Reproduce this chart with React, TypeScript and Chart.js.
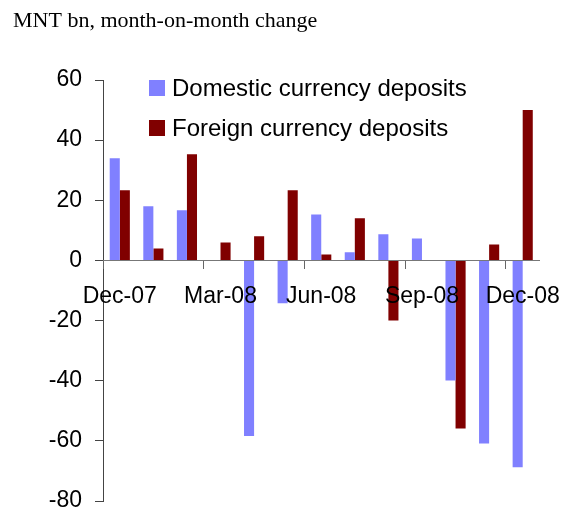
import React, { useEffect, useRef } from "react";
import { Chart, registerables } from "chart.js";

Chart.register(...registerables);

const categories = [
  "Dec-07", "Jan-08", "Feb-08", "Mar-08", "Apr-08", "May-08", "Jun-08",
  "Jul-08", "Aug-08", "Sep-08", "Oct-08", "Nov-08", "Dec-08",
];
const domesticDeposits = [34, 18, 16.7, 0, -58.4, -14.2, 15.3, 2.7, 8.7, 7.3, -39.9, -60.9, -68.8];
const foreignDeposits = [23.3, 4, 35.3, 6, 8, 23.3, 2, 14, -20, 0, -55.9, 5.3, 50];
const seriesNames = ["Domestic currency deposits", "Foreign currency deposits"];
const titleText = "MNT bn, month-on-month change";

const SANS = '"Liberation Sans", Arial, sans-serif';
const SERIF = '"Liberation Serif", "Times New Roman", serif';

const overlayPlugin = {
  id: "overlay",
  afterDraw(chart: any) {
    const ctx = chart.ctx;
    ctx.save();
    ctx.fillStyle = "#000";
    ctx.font = `22px ${SERIF}`;
    ctx.textBaseline = "alphabetic";
    ctx.textAlign = "left";
    ctx.fillText(titleText, 13, 27);
    chart.data.datasets.forEach((ds: any, i: number) => {
      const cy = 88 + i * 40;
      ctx.fillStyle = ds.backgroundColor;
      ctx.fillRect(149, cy - 8, 16, 16);
      ctx.fillStyle = "#000";
      ctx.font = `24px ${SANS}`;
      ctx.textBaseline = "middle";
      ctx.fillText(ds.label, 172, cy + 1);
    });
    ctx.restore();
  },
};

export default function App() {
  const ref = useRef<HTMLCanvasElement>(null);
  useEffect(() => {
    if (!ref.current) return;
    const chart = new Chart(ref.current, {
      type: "bar",
      data: {
        labels: categories,
        datasets: [
          { label: seriesNames[0], data: domesticDeposits, backgroundColor: "#8080FF", barPercentage: 1, categoryPercentage: 0.6 },
          { label: seriesNames[1], data: foreignDeposits, backgroundColor: "#800000", barPercentage: 1, categoryPercentage: 0.6 },
        ],
      },
      options: {
        responsive: false,
        animation: false,
        layout: { padding: { top: 80, left: 0, right: 32, bottom: 29 } },
        plugins: { legend: { display: false }, tooltip: { enabled: false }, title: { display: false } },
        scales: {
          x: {
            position: { y: 0 } as any,
            grid: {
              display: true,
              drawOnChartArea: false,
              drawTicks: true,
              tickLength: 8,
              offset: true,
              z: 1,
              tickColor: (c: any) => (typeof c.index === "number" && c.index % 3 === 0 ? "#666" : "rgba(0,0,0,0)"),
            },
            border: { display: true, color: "#777", width: 1, z: 1 },
            ticks: {
              z: 1,
              autoSkip: false,
              maxRotation: 0,
              padding: 14,
              color: "#000",
              font: { family: SANS, size: 23 },
              callback: (_v: any, i: number) => (i % 3 === 0 ? categories[i] : ""),
            },
          },
          y: {
            min: -80,
            max: 60,
            afterFit: (s: any) => { s.width = 103; },
            grid: { display: true, drawOnChartArea: false, drawTicks: true, tickLength: 8, color: "#444", tickColor: "#444" },
            border: { display: true, color: "#444", width: 1 },
            ticks: { stepSize: 20, padding: 13, color: "#000", font: { family: SANS, size: 23 } },
          },
        },
      },
      plugins: [overlayPlugin],
    });
    return () => chart.destroy();
  }, []);
  return (
    <div style={{ position: "fixed", left: 0, top: 0, width: 575, height: 510, overflow: "hidden", background: "#fff" }}>
      <canvas ref={ref} width={575} height={530} style={{ display: "block" }} />
    </div>
  );
}
